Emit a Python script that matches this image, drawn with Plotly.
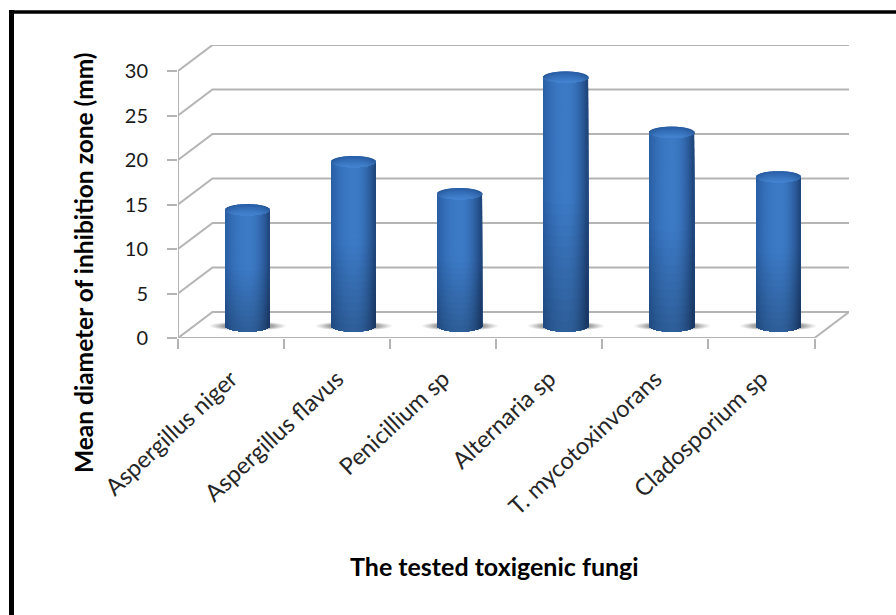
import math
import plotly.graph_objects as go

categories = ["Aspergillus niger", "Aspergillus flavus", "Penicillium sp",
              "Alternaria sp", "T. mycotoxinvorans", "Cladosporium sp"]
values = [13.7, 19.1, 15.5, 28.6, 22.4, 17.4]
y_ticks = [0, 5, 10, 15, 20, 25, 30]

W, H = 896, 615
L, R, T, B = 178, 849, 45, 338        # plot area in page pixels
PX_Y = 8.9                            # pixels per y unit
PX_X = 106.1                          # pixels per category
DX = 34.5 / PX_X                      # depth of the box along x (category units)
DY = 26 / PX_Y                        # depth of the box along y (value units)
BASE_SHIFT = 12 / PX_Y                # bars stand inside the floor
BAR_W = 44 / PX_X
CAP = 5.6 / PX_Y
STRIPS = 44
LEVELS = 24
GREY = "#b4b4b4"


def mix(a, b, f):
    return tuple(a[i] + (b[i] - a[i]) * f for i in range(3))


def rgb(c, k=1.0):
    return "rgb(%d,%d,%d)" % tuple(max(0, min(255, round(x * k))) for x in c)


def side_colour(u):
    centre = (60, 122, 198)
    edge = (42, 96, 166) if u < 0 else (28, 64, 116)
    return mix(centre, edge, abs(u - 0.05) ** 2.0)


fig = go.Figure()

# box: floor, back wall and side wall grid lines
for v in y_ticks:
    fig.add_trace(go.Scatter(x=[-0.5, -0.5 + DX, 5.5 + DX], y=[v, v + DY, v + DY], mode="lines",
                             line=dict(color=GREY, width=2), hoverinfo="skip", showlegend=False,
                             cliponaxis=False))
fig.add_trace(go.Scatter(x=[-0.5, -0.5], y=[0, 30], mode="lines", line=dict(color=GREY, width=2),
                         hoverinfo="skip", showlegend=False, cliponaxis=False))
fig.add_trace(go.Scatter(x=[-0.5, 5.5, 5.5 + DX], y=[0, 0, DY], mode="lines",
                         line=dict(color=GREY, width=2), hoverinfo="skip", showlegend=False,
                         cliponaxis=False))
fig.add_trace(go.Scatter(x=[-0.5, 5.5], y=[None, None], xaxis="x2", yaxis="y", mode="lines",
                         hoverinfo="skip", showlegend=False))

xs = list(range(len(values)))

# cylinder bodies: thin vertical strips, bottom and shoulder follow the ellipse
for j in range(STRIPS):
    u = (j + 0.5) / STRIPS * 2 - 1
    r = math.sqrt(max(0, 1 - u * u))
    off = u * BAR_W / 2
    bx, by, bb, bc = [], [], [], []
    for i, v in zip(xs, values):
        bottom = -CAP * r
        top = v - CAP
        for k in range(LEVELS):
            frac = 1 - k / LEVELS
            shade = 1.0 if frac > 0.55 else 0.76 + 0.24 * (frac / 0.55)
            bx.append(i + off)
            bb.append(bottom)
            by.append((top - bottom) * frac)
            bc.append(rgb(side_colour(u), shade))
    fig.add_trace(go.Bar(x=bx, y=by, base=bb, width=BAR_W / STRIPS * 1.3, xaxis="x3", yaxis="y2",
                         marker=dict(color=bc, line=dict(width=0)), hoverinfo="skip", showlegend=False))

# cylinder tops: darker at the far rim, lighter at the near rim
for j in range(STRIPS):
    u = (j + 0.5) / STRIPS * 2 - 1
    r = math.sqrt(max(0, 1 - u * u))
    off = u * BAR_W / 2
    bx, by, bb, bc = [], [], [], []
    for i, v in zip(xs, values):
        centre = v - CAP
        for k in range(8):
            frac = 1 - k / 8
            c = mix((68, 132, 210), (42, 96, 168), frac ** 1.2)
            c = mix(c, (34, 78, 136), abs(u) ** 3 * 0.6)
            bx.append(i + off)
            bb.append(centre - CAP * r)
            by.append(2 * CAP * r * frac)
            bc.append(rgb(c))
    fig.add_trace(go.Bar(x=bx, y=by, base=bb, width=BAR_W / STRIPS * 1.3, xaxis="x3", yaxis="y2",
                         marker=dict(color=bc, line=dict(width=0)), hoverinfo="skip", showlegend=False))

# floor shadows under the cylinders
shapes = []
for i in xs:
    for sx, sy, op in [(38, 4.6, 0.08), (35, 4.3, 0.10), (32, 4.0, 0.12), (29, 3.7, 0.14), (26, 3.4, 0.16)]:
        shapes.append(dict(type="circle", xref="x3", yref="y2", layer="below",
                           x0=i - sx / PX_X, x1=i + sx / PX_X,
                           y0=-sy / PX_Y, y1=sy / PX_Y,
                           fillcolor="rgba(60,60,60,%.2f)" % op, line=dict(width=0)))

# picture frame (open on the right and at the bottom)
fx = lambda p: (p - L) / (R - L)
fy = lambda p: (B - p) / (B - T)
shapes.append(dict(type="line", xref="paper", yref="paper", x0=fx(9.5), x1=fx(W + 5), y0=fy(12), y1=fy(12),
                   line=dict(color="#000000", width=3.6)))
shapes.append(dict(type="line", xref="paper", yref="paper", x0=fx(11.5), x1=fx(11.5), y0=fy(10), y1=fy(H + 5),
                   line=dict(color="#000000", width=5)))

annotations = [
    dict(text="<b>Mean diameter of inhibition zone (mm)</b>", textangle=-90, showarrow=False,
         xref="paper", yref="paper", x=fx(83), y=fy(263), xanchor="center", yanchor="middle",
         font=dict(family="Lato", size=24.5, color="#000000")),
    dict(text="<b>The tested toxigenic fungi</b>", showarrow=False,
         xref="paper", yref="paper", x=fx(494), y=fy(566), xanchor="center", yanchor="middle",
         font=dict(family="Lato", size=25, color="#000000")),
]

x_range = [-0.5, 5.5 + DX]
fig.update_layout(
    width=W, height=H, autosize=False,
    margin=dict(l=L, r=W - R, t=T, b=H - B, pad=0),
    paper_bgcolor="white", plot_bgcolor="white",
    barmode="overlay", showlegend=False,
    shapes=shapes, annotations=annotations,
    font=dict(family="Lato", color="#262626"),
    xaxis=dict(domain=[0, 1], range=x_range, tickmode="array", tickvals=xs, ticktext=categories,
               tickangle=-43, ticks="outside", ticklen=17, tickcolor="rgba(0,0,0,0)",
               showgrid=False, zeroline=False, showline=False,
               tickfont=dict(family="Lato", size=23.5, color="#262626")),
    xaxis2=dict(overlaying="x", anchor="y", side="bottom", range=x_range, tickmode="array",
                tickvals=[i - 0.5 for i in range(7)], ticktext=[""] * 7, ticks="outside", ticklen=10,
                tickwidth=2, tickcolor=GREY, showgrid=False, zeroline=False, showline=False),
    xaxis3=dict(overlaying="x", anchor="y2", visible=False,
                range=[-0.5 - DX / 2 + 0.5 / PX_X, 5.5 + DX / 2 + 0.5 / PX_X]),
    yaxis=dict(domain=[0, 1], range=[0, 30 + DY], tickmode="array", tickvals=y_ticks,
               ticks="outside", ticklen=10, tickwidth=2, tickcolor=GREY, ticklabelstandoff=15,
               showgrid=False, zeroline=False, showline=False,
               tickfont=dict(family="Lato", size=20, color="#1a1a1a")),
    yaxis2=dict(overlaying="y", anchor="x3", visible=False,
                range=[-BASE_SHIFT, 30 + DY - BASE_SHIFT]),
)

fig.write_html("out.html", post_script="document.body.style.margin='0';",
               config=dict(displayModeBar=False))
